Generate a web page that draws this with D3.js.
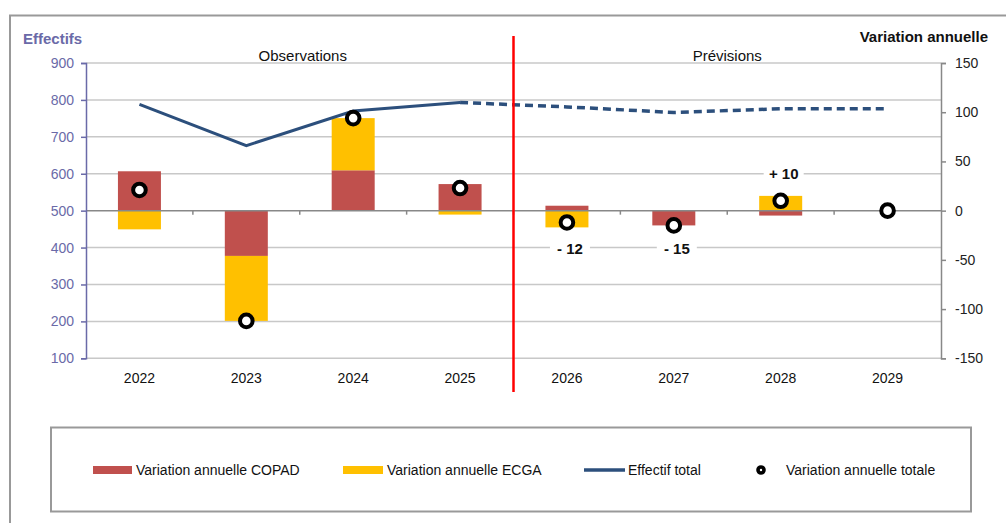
<!DOCTYPE html>
<html>
<head>
<meta charset="utf-8">
<script src="https://cdn.jsdelivr.net/npm/d3@7"></script>
<style>
  body { margin: 0; background: #fff; }
  svg { display: block; font-family: "Liberation Sans", Arial, sans-serif; }
</style>
</head>
<body>
<div class="chart"></div>
<script>
// data
var years = ["2022", "2023", "2024", "2025", "2026", "2027", "2028", "2029"];
var copad = [40, -46, 41, 27, 5, -15, -5, 0];
var ecga = [-19, -66, 53, -4, -17, 0, 15, 0];
var totalVar = [21, -112, 94, 23, -12, -15, 10, 0];
var effectif = [788, 676, 770, 793, 781, 766, 776, 776];
var leftTicks = [100, 200, 300, 400, 500, 600, 700, 800, 900];
var rightTicks = [-150, -100, -50, 0, 50, 100, 150];
var labelYears = ["2026", "2027", "2028"];
var seriesNames = ["Variation annuelle COPAD", "Variation annuelle ECGA", "Effectif total", "Variation annuelle totale"];

var svgWidth = 1006, svgHeight = 523;
var plot = { left: 86, right: 941, top: 63, bottom: 358.3 };
var red = "#c0504d", yellow = "#ffc000", blue = "#2c4f7c", purple = "#6a6aa8";

var svg = d3.select(".chart").append("svg")
  .attr("width", svgWidth)
  .attr("height", svgHeight);

// outer frame
svg.append("rect")
  .attr("x", 10).attr("y", 15.5)
  .attr("width", 1010).attr("height", 520)
  .attr("fill", "none").attr("stroke", "#999").attr("stroke-width", 2);

var x = d3.scaleBand().domain(years).range([plot.left, plot.right]).padding(0);
var yLeft = d3.scaleLinear().domain([100, 900]).range([plot.bottom, plot.top]);
var yRight = d3.scaleLinear().domain([-150, 150]).range([plot.bottom, plot.top]);
var barW = 43;

// gridlines
svg.append("g").selectAll("line")
  .data(leftTicks.filter(d => d !== 500))
  .enter().append("line")
  .attr("x1", plot.left).attr("x2", plot.right)
  .attr("y1", d => yLeft(d)).attr("y2", d => yLeft(d))
  .attr("stroke", "#c8c8c8").attr("stroke-width", 1.5);

// stacked bars
var table = years.map((y, i) => ({ year: y, copad: copad[i], ecga: ecga[i] }));
var stack = d3.stack().keys(["copad", "ecga"]).offset(d3.stackOffsetDiverging);
var layers = stack(table);
var colors = { copad: red, ecga: yellow };

svg.append("g").selectAll("g")
  .data(layers)
  .enter().append("g")
  .attr("fill", d => colors[d.key])
  .selectAll("rect")
  .data(d => d)
  .enter().append("rect")
  .attr("x", d => x(d.data.year) + x.bandwidth() / 2 - barW / 2)
  .attr("width", barW)
  .attr("y", d => yRight(Math.max(d[0], d[1])))
  .attr("height", d => Math.abs(yRight(d[0]) - yRight(d[1])));

// zero line with ticks at category boundaries
var zeroY = yRight(0);
svg.append("line")
  .attr("x1", plot.left).attr("x2", plot.right)
  .attr("y1", zeroY).attr("y2", zeroY)
  .attr("stroke", "#888").attr("stroke-width", 1.5);
svg.append("g").selectAll("line")
  .data(years.slice(1))
  .enter().append("line")
  .attr("x1", d => x(d)).attr("x2", d => x(d))
  .attr("y1", zeroY).attr("y2", zeroY + 4)
  .attr("stroke", "#888").attr("stroke-width", 1.5);

// left axis
var leftAxis = svg.append("g")
  .attr("transform", `translate(${plot.left},0)`)
  .call(d3.axisLeft(yLeft).tickValues(leftTicks).tickSize(5).tickPadding(7));
leftAxis.select(".domain").attr("stroke", purple).attr("stroke-width", 1.5);
leftAxis.selectAll(".tick line").attr("stroke", purple).attr("stroke-width", 1.5);
leftAxis.selectAll("text").attr("fill", purple).style("font-size", "14px").style("font-family", "Liberation Sans, Arial, sans-serif");

// right axis (plain hyphen for negatives, like the original)
var rightAxis = svg.append("g")
  .attr("transform", `translate(${plot.right},0)`)
  .call(d3.axisRight(yRight).tickValues(rightTicks).tickSize(5).tickPadding(9).tickFormat(d => String(d)));
rightAxis.select(".domain").attr("stroke", "#888").attr("stroke-width", 1.5);
rightAxis.selectAll(".tick line").attr("stroke", "#888").attr("stroke-width", 1.5);
rightAxis.selectAll("text").attr("fill", "#222").style("font-size", "14px").style("font-family", "Liberation Sans, Arial, sans-serif");

// year labels
svg.append("g").selectAll("text")
  .data(years)
  .enter().append("text")
  .attr("x", d => x(d) + x.bandwidth() / 2)
  .attr("y", 383)
  .attr("text-anchor", "middle")
  .style("font-size", "14px")
  .attr("fill", "#111")
  .text(d => d);

// effectif total line: solid for observations, dashed for forecasts
var line = d3.line()
  .x(d => x(d.year) + x.bandwidth() / 2)
  .y(d => yLeft(d.value));
var linePts = years.map((y, i) => ({ year: y, value: effectif[i] }));

svg.append("path")
  .datum(linePts.slice(0, 4))
  .attr("d", line)
  .attr("fill", "none").attr("stroke", blue).attr("stroke-width", 3);
svg.append("path")
  .datum(linePts.slice(3))
  .attr("d", line)
  .attr("fill", "none").attr("stroke", blue).attr("stroke-width", 3.5)
  .attr("stroke-dasharray", "8,5");

// dots for total variation
svg.append("g").selectAll("circle")
  .data(years.map((y, i) => ({ year: y, value: totalVar[i] })))
  .enter().append("circle")
  .attr("cx", d => x(d.year) + x.bandwidth() / 2)
  .attr("cy", d => yRight(d.value))
  .attr("r", 6.3)
  .attr("fill", "#fff").attr("stroke", "#000").attr("stroke-width", 4);

// value labels for forecasts
var labelData = years.map((y, i) => ({ year: y, value: totalVar[i] }))
  .filter(d => labelYears.indexOf(d.year) >= 0);
var labels = svg.append("g").selectAll("g")
  .data(labelData)
  .enter().append("g")
  .attr("transform", d => `translate(${x(d.year) + x.bandwidth() / 2 + 3},${yRight(d.value < 0 ? -38.5 : 37.5)})`);
labels.append("rect")
  .attr("x", -20).attr("y", -10).attr("width", 40).attr("height", 20)
  .attr("fill", "#fff");
labels.append("text")
  .attr("text-anchor", "middle")
  .attr("dy", "0.36em")
  .style("font-size", "15px").style("font-weight", "bold")
  .attr("fill", "#111")
  .text(d => (d.value < 0 ? "- " : "+ ") + Math.abs(d.value));

// red separator between observations and forecasts
svg.append("line")
  .attr("x1", x("2026")).attr("x2", x("2026"))
  .attr("y1", 36).attr("y2", 392)
  .attr("stroke", "#ff0000").attr("stroke-width", 2.5);

// section titles and axis titles
svg.append("text")
  .attr("x", (plot.left + x("2026")) / 2 + 3).attr("y", 61)
  .attr("text-anchor", "middle").style("font-size", "15px").attr("fill", "#111")
  .text("Observations");
svg.append("text")
  .attr("x", (x("2026") + plot.right) / 2).attr("y", 61)
  .attr("text-anchor", "middle").style("font-size", "15px").attr("fill", "#111")
  .text("Prévisions");
svg.append("text")
  .attr("x", 23).attr("y", 44)
  .style("font-size", "15px").style("font-weight", "bold").attr("fill", purple)
  .text("Effectifs");
svg.append("text")
  .attr("x", 988).attr("y", 42)
  .attr("text-anchor", "end")
  .style("font-size", "15px").style("font-weight", "bold").attr("fill", "#111")
  .text("Variation annuelle");

// legend
svg.append("rect")
  .attr("x", 51).attr("y", 427.5)
  .attr("width", 920).attr("height", 84)
  .attr("fill", "#fff").attr("stroke", "#999").attr("stroke-width", 2);

var legY = 470;
var leg = svg.append("g");
leg.append("rect").attr("x", 93).attr("y", legY - 4).attr("width", 39).attr("height", 8).attr("fill", red);
leg.append("rect").attr("x", 343).attr("y", legY - 4).attr("width", 40).attr("height", 8).attr("fill", yellow);
leg.append("line").attr("x1", 584).attr("x2", 625).attr("y1", legY).attr("y2", legY)
  .attr("stroke", blue).attr("stroke-width", 3.5);
leg.append("circle").attr("cx", 761).attr("cy", legY).attr("r", 3)
  .attr("fill", "#fff").attr("stroke", "#000").attr("stroke-width", 3.6);

var legTextX = [136, 387, 628, 786];
leg.selectAll("text")
  .data(seriesNames)
  .enter().append("text")
  .attr("x", (d, i) => legTextX[i])
  .attr("y", legY + 5)
  .style("font-size", "14px")
  .attr("fill", "#111")
  .text(d => d);
</script>
</body>
</html>
